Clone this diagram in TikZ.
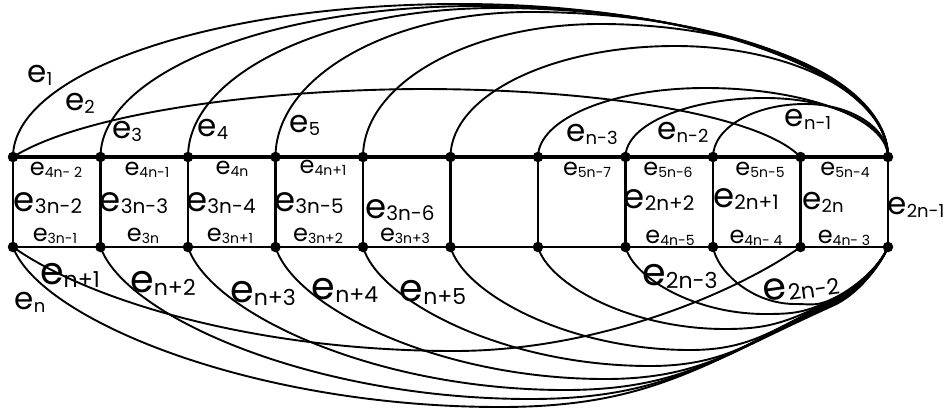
\documentclass[tikz,border=0pt]{standalone}
\usepackage{fontspec}
\setmainfont{Poppins}
\usetikzlibrary{backgrounds}
\tikzset{
  dot/.style={circle,fill=black,inner sep=0pt,minimum size=10.5pt},
  arcline/.style={line width=1.9pt},
  toprow/.style={line width=3.8pt},
  botrow/.style={line width=2pt},
  rung/.style={line width=2.8pt},
  lab/.style={inner sep=0pt,anchor=center},
}
\newcommand\eL[1]{{\fontsize{38}{38}\selectfont e}\raisebox{-3pt}{\fontsize{22}{22}\selectfont #1}}
\newcommand\eR[1]{{\fontsize{34}{34}\selectfont e}\raisebox{-2pt}{\fontsize{20}{20}\selectfont #1}}
\newcommand\eM[1]{{\fontsize{31}{31}\selectfont e}\raisebox{-3pt}{\fontsize{18}{18}\selectfont #1}}
\newcommand\eS[1]{{\fontsize{24}{24}\selectfont e}\raisebox{-2pt}{\fontsize{14}{14}\selectfont #1}}
\begin{document}
\begin{tikzpicture}[x=1pt,y=-1pt]
\useasboundingbox (0,0) rectangle (944,410);
% vertices
\foreach \i in {0,...,10}{
  \pgfmathsetmacro\vxx{13+87.5*\i}
  \node[dot] (t\i) at (\vxx,157) {};
  \node[dot] (b\i) at (\vxx,247) {};
}
\begin{scope}[on background layer]
% ladder
\draw[toprow] (t0.center) -- (t10.center);
\draw[botrow] (b0.center) -- (b10.center);
\foreach \i in {0,...,10}{ \draw[rung] (t\i.center) -- (b\i.center); }
% top arcs to t10
\foreach \i/\tx/\ty in {0/460/4,1/478/6,2/497/8,3/530/12,4/600/24,5/675/46,6/705/88,7/765/98,8/805/104}{
  \pgfmathsetmacro\vxx{13+87.5*\i}
  \pgfmathsetmacro\hb{157-\ty}
  \pgfmathsetmacro\ay{157-0.5523*\hb}
  \pgfmathsetmacro\rx{\tx-0.5523*(\tx-\vxx)}
  \pgfmathsetmacro\dxx{\tx+0.5523*(888-\tx)}
  \draw[arcline] (t\i.center) .. controls (\vxx,\ay) and (\rx,\ty) .. (\tx,\ty)
     .. controls (\dxx,\ty) and (888,\ay) .. (t10.center);
}
% e2
\draw[arcline] (t0.center) .. controls (80,115) and (250,90) .. (420,89)
   .. controls (600,89) and (760,115) .. (t9.center);
% bottom arcs to b10
\foreach \i/\bx/\byy/\sh in {0/500/407/8,1/530/399/7,2/565/390/6,3/605/379/5,4/650/366/4,5/690/350/3,6/725/329/2,7/765/314/1,8/795/304/0}{
  \pgfmathsetmacro\vxx{13+87.5*\i}
  \pgfmathsetmacro\px{\vxx+0.055*(\bx-\vxx)}
  \pgfmathsetmacro\py{247+0.45*(\byy-247)}
  \pgfmathsetmacro\qx{\vxx+0.49*(\bx-\vxx)}
  \pgfmathsetmacro\cx{830+0.41*0.8*\sh}
  \pgfmathsetmacro\cy{300+0.91*0.8*\sh}
  \pgfmathsetmacro\dd{\cx-\bx}
  \pgfmathsetmacro\ux{\bx+0.45*\dd}
  \pgfmathsetmacro\vx{\cx-0.4*\dd}
  \pgfmathsetmacro\vy{\cy+0.18*\dd}
  \pgfmathsetmacro\wx{\cx+25}
  \pgfmathsetmacro\wy{\cy-11}
  \draw[arcline] (b\i.center) .. controls (\px,\py) and (\qx,\byy) .. (\bx,\byy)
     .. controls (\ux,\byy) and (\vx,\vy) .. (\cx,\cy)
     .. controls (\wx,\wy) and (880,266) .. (b10.center);
}
% e_{n+1}
\draw[arcline] (b0.center) .. controls (80,295) and (240,350) .. (450,351)
   .. controls (600,352) and (740,290) .. (b9.center);
\end{scope}
% labels
\node[lab] (l1) at (40,75) {\eM{1}};
\node[lab] (l2) at (80,103) {\eM{2}};
\node[lab] (l3) at (127,131) {\eM{3}};
\node[lab] (l4) at (213,129) {\eM{4}};
\node[lab] (l5) at (305,125) {\eM{5}};
\node[lab] (ln3) at (592,134) {\eM{n-3}};
\node[lab] (ln2) at (683,132) {\eM{n-2}};
\node[lab] (ln1) at (808,119) {\eM{n-1}};
\node[lab] (h1) at (56,170) {\eS{4n- 2}};
\node[lab] (h2) at (147,170) {\eS{4n-1}};
\node[lab] (h3) at (232,169) {\eS{4n}};
\node[lab] (h4) at (323,168) {\eS{4n+1}};
\node[lab] (h5) at (587,170) {\eS{5n-7}};
\node[lab] (h6) at (668,170) {\eS{5n-6}};
\node[lab] (h7) at (760,170) {\eS{5n-5}};
\node[lab] (h8) at (845,170) {\eS{5n-4}};
\node[lab] (r1) at (48,203) {\eR{3n-2}};
\node[lab] (r2) at (134,203) {\eR{3n-3}};
\node[lab] (r3) at (221,203) {\eR{3n-4}};
\node[lab] (r4) at (309,203) {\eR{3n-5}};
\node[lab] (r5) at (400,210) {\eR{3n-6}};
\node[lab] (r6) at (659,200) {\eR{2n+2}};
\node[lab] (r7) at (746,199) {\eR{2n+1}};
\node[lab] (r8) at (823,202) {\eM{2n}};
\node[lab] (r9) at (916,207) {\eM{2n-1}};
\node[lab] (g1) at (55,236) {\eS{3n-1}};
\node[lab] (g2) at (143,236) {\eS{3n}};
\node[lab] (g3) at (230,236) {\eS{3n+1}};
\node[lab] (g4) at (318,236) {\eS{3n+2}};
\node[lab] (g5) at (405,236) {\eS{3n+3}};
\node[lab] (g6) at (670,238) {\eS{4n-5}};
\node[lab] (g7) at (756,238) {\eS{4n- 4}};
\node[lab] (g8) at (844,238) {\eS{4n- 3}};
\node[lab] (k1) at (70,275) {\eL{n+1}};
\node[lab] (k0) at (30,302) {\eM{n}};
\node[lab] (k2) at (163,283) {\eL{n+2}};
\node[lab] (k3) at (263,293) {\eL{n+3}};
\node[lab] (k4) at (345,290) {\eL{n+4}};
\node[lab] (k5) at (433,292) {\eL{n+5}};
\node[lab] (k6) at (680,276) {\eL{2n-3}};
\node[lab,rotate=8] (k7) at (801,287) {\fontsize{38}{38}\selectfont e\kern1pt\raisebox{-3pt}{\fontsize{22}{22}\selectfont 2n-2}};
\end{tikzpicture}
\end{document}
